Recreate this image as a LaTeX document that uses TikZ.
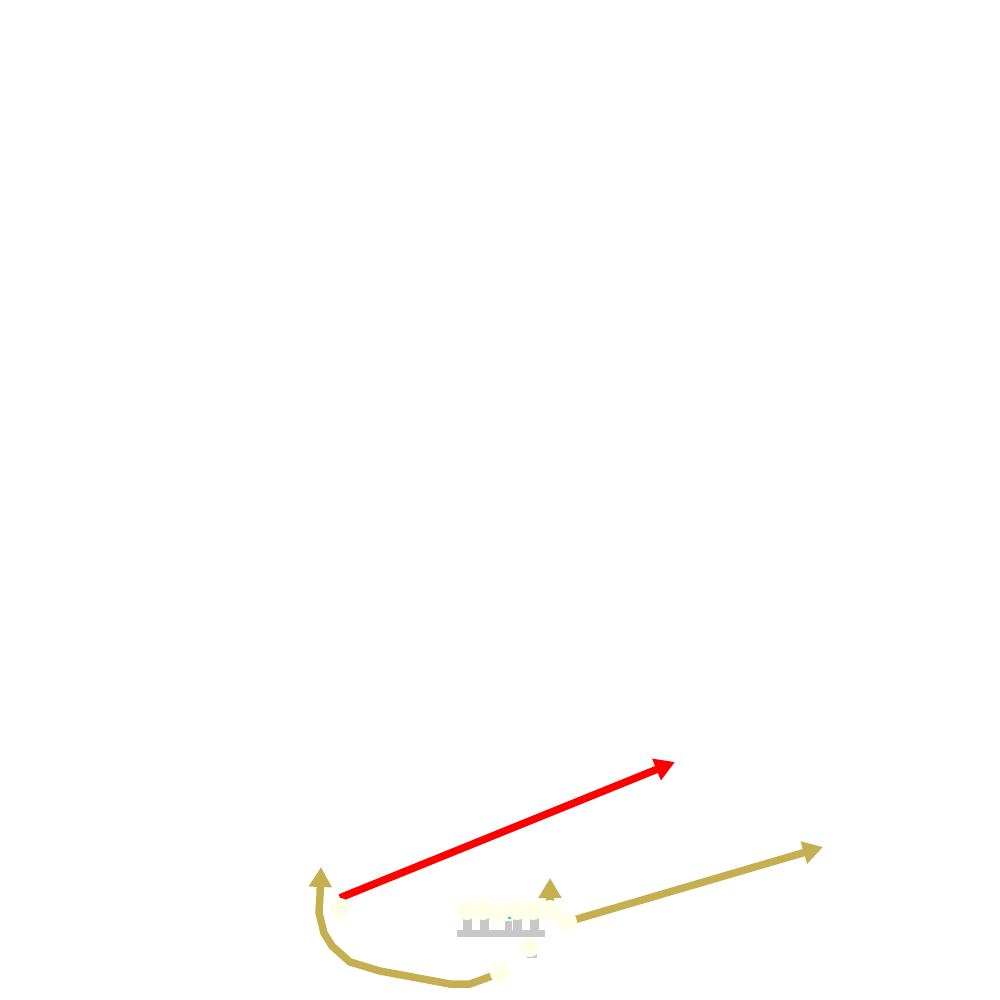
\documentclass[tikz,border=0pt]{standalone}
\usetikzlibrary{arrows.meta,backgrounds}
\definecolor{gold}{RGB}{196,176,80}
\definecolor{ivory}{RGB}{255,255,234}
\definecolor{pale}{RGB}{200,200,200}
\definecolor{mint}{RGB}{0,220,130}

\begin{document}
\begin{tikzpicture}[x=1pt,y=-1pt,
  dot/.style={circle, fill=ivory, inner sep=0pt, minimum size=20pt},
  goldarr/.style={draw=gold, line width=7.5pt, -{Triangle[length=20pt,width=22pt]}},
  redarr/.style={draw=red, line width=7.5pt, -{Triangle[length=20pt,width=22pt]}}]

  \useasboundingbox (0,0) rectangle (1000,1000);

  %% comb
  \fill[pale] (457,930) rectangle (545,937);
  \foreach \x in {463,480,513,530}
    \fill[pale] (\x,918) rectangle (\x+9,930);
  \fill[pale] (505,921) rectangle (512,930);
  \fill[pale] (527,940) rectangle (537,958);
  \fill[mint] (505,918) -- (513,913) -- (511,919) -- cycle;

  %% dots
  \node[dot] (s) at (340,908) {};
  \node[dot] (a) at (467,910) {};
  \node[dot] (b) at (483,910) {};
  \node[dot] (c) at (500,912) {};
  \node[dot] (d) at (517,910) {};
  \node[dot] (e) at (533,910) {};
  \node[dot] (f) at (550,910) {};
  \node[dot] (g) at (567,922) {};
  \node[dot] (h) at (530,947) {};
  \node[dot] (k) at (500,973) {};

  \coordinate (redend) at (675,762);
  \coordinate (goldend) at (823,847);
  \coordinate (upend) at (550,878);
  \coordinate (leftend) at (321,867);

  \begin{pgfonlayer}{background}
    \draw[redarr] (s.north) -- (redend);
    \draw[goldarr] (g.center) -- (goldend);
    \draw[goldarr] (f.center) -- (upend);
    \draw[goldarr] (k.center) -- (470,984) -- (450,984) -- (380,971) -- (350,962)
      -- (332,946) -- (324,933) -- (319,913) -- (320,895) -- (leftend); %% back round
  \end{pgfonlayer}

\end{tikzpicture}
\end{document}
